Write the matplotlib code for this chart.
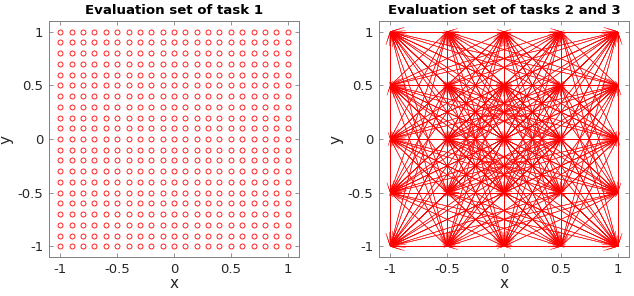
import numpy as np
import matplotlib
matplotlib.use("Agg")
import matplotlib.pyplot as plt
from matplotlib.collections import LineCollection

# Data
task1_coords = [round(-1 + 0.1 * i, 1) for i in range(21)]
task23_coords = [-1.0, -0.5, 0.0, 0.5, 1.0]
tick_vals = [-1, -0.5, 0, 0.5, 1]
tick_labels = ["-1", "-0.5", "0", "0.5", "1"]
titles = ["Evaluation set of task 1", "Evaluation set of tasks 2 and 3"]

W, H = 634, 296
fig = plt.figure(figsize=(W / 100, H / 100), dpi=100)
plt.rcParams['font.family'] = ['DejaVu Sans']

txt = (0.15, 0.15, 0.15)
edge = (0.5, 0.5, 0.5)

def style(ax, title):
    ax.set_xlim(-1.1, 1.1)
    ax.set_ylim(-1.1, 1.1)
    ax.set_xticks(tick_vals)
    ax.set_xticklabels(tick_labels)
    ax.set_yticks(tick_vals)
    ax.set_yticklabels(tick_labels)
    ax.tick_params(direction='in', length=3, width=0.6, colors=edge,
                   labelcolor=txt, labelsize=9.5, top=True, right=True, pad=4)
    for s in ax.spines.values():
        s.set_color(edge)
        s.set_linewidth(0.7)
    ax.set_title(title, fontsize=9.6, fontweight='bold', color='black', pad=5)
    ax.set_xlabel('x', fontsize=11, color=txt, labelpad=0)
    ax.set_ylabel('y', fontsize=11, color=txt, labelpad=3)

ax1 = fig.add_axes([49 / W, (H - 257) / H, 250 / W, 236 / H])
X1, Y1 = np.meshgrid(task1_coords, task1_coords)
ax1.plot(X1.ravel(), Y1.ravel(), 'o', mfc='none', mec=(1, 0, 0), ms=3.6, mew=0.6, ls='none')
style(ax1, titles[0])

ax2 = fig.add_axes([379 / W, (H - 257) / H, 250 / W, 236 / H])
X2, Y2 = np.meshgrid(task23_coords, task23_coords)
px, py = X2.ravel(), Y2.ravel()
segs, heads = [], []
head_frac = 0.065
ang = np.deg2rad(18)
for i in range(len(px)):
    for j in range(len(px)):
        if i == j:
            continue
        x0, y0, x1, y1 = px[i], py[i], px[j], py[j]
        segs.append([(x0, y0), (x1, y1)])
        dx, dy = x0 - x1, y0 - y1
        for a in (ang, -ang):
            c, s = np.cos(a), np.sin(a)
            bx = (dx * c - dy * s) * head_frac
            by = (dx * s + dy * c) * head_frac
            heads.append([(x1, y1), (x1 + bx, y1 + by)])
ax2.add_collection(LineCollection(segs, colors=[(1, 0, 0)], linewidths=0.4))
ax2.add_collection(LineCollection(heads, colors=[(1, 0, 0)], linewidths=0.4, clip_on=False))
style(ax2, titles[1])

fig.savefig('out.png', dpi=100)
